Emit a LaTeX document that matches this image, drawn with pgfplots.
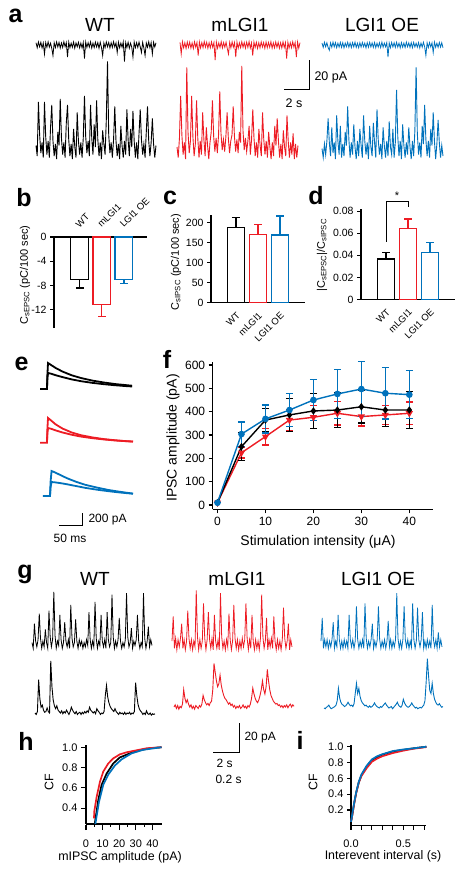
\documentclass[border=0pt]{standalone}
\usepackage{pgfplots}
\pgfplotsset{compat=1.18}
\usepackage{fontspec}
\setmainfont{Liberation Sans}
\definecolor{cR}{RGB}{237,28,36}
\definecolor{cB}{RGB}{0,114,188}
\newcommand{\fs}[1]{\fontsize{#1}{#1}\selectfont}
\pgfplotsset{
  trace/.style={scale only axis, axis lines=none, clip=false, anchor=south west, xmin=0, xmax=99, xtick=\empty, ytick=\empty},
  panel/.style={scale only axis, anchor=south west, axis line style={line width=1.1pt, black}, tick style={line width=1.1pt, black}, tick align=outside, major tick length=4pt, minor tick length=2.5pt, /pgf/number format/assume math mode=true, clip=false, scaled ticks=false},
  bar/.style={ybar, bar width=17.5pt, bar shift=0pt, fill=white, draw=#1, line width=1.4pt, error bars/y explicit, error bars/error bar style={#1, line width=1.4pt}, error bars/error mark options={#1, rotate=90, mark size=4pt, line width=1.4pt}},
}
\begin{document}
\begin{tikzpicture}
\useasboundingbox (0,0) rectangle (463pt,-872pt);

% ================= panel a =================
\node[font=\bfseries\fs{25}] at (15.5pt,-15.5pt) {a};
\node[font=\fs{19}] at (100pt,-25pt) {WT};
\node[font=\fs{19}] at (240pt,-25pt) {mLGI1};
\node[font=\fs{19}] at (382pt,-25pt) {LGI1 OE};

\begin{axis}[trace, at={(36pt,-63pt)}, width=120pt, height=24pt, ymin=-12, ymax=4]
\addplot[black, line width=0.8pt] table[row sep=\\, header=false, x expr=\coordindex, y index=0] {
1.5\\-1.8\\2\\-1.2\\1.8\\-2\\1.3\\-6\\1.6\\-1.5\\
2.1\\-1.4\\1.2\\-2.2\\-7\\1.5\\-1.7\\2\\-1.3\\1.7\\
-2\\1.4\\-1.6\\2.2\\-1.1\\1.6\\-8\\1.9\\-1.8\\1.2\\
-1.5\\2\\-2.1\\1.4\\-1.2\\1.8\\-1.9\\1.3\\-2\\1.7\\
-9\\2\\-1.6\\1.5\\-1.4\\2.1\\-2\\1.2\\-1.7\\1.9\\
-1.3\\1.6\\-2.2\\1.8\\-1.5\\-7\\1.4\\-1.8\\2\\-1.2\\
1.7\\-2\\1.5\\-1.6\\2.2\\-1.3\\1.4\\-5\\1.9\\-1.9\\
1.3\\-1.5\\2\\-11\\1.6\\-1.7\\1.8\\-2.1\\1.2\\-1.4\\
-8\\2\\-1.8\\1.5\\-1.6\\1.9\\-1.2\\-5\\1.7\\-2\\
-7\\1.4\\-1.5\\2.1\\-1.9\\1.6\\-6\\1.8\\-1.3\\1.5\\
};
\end{axis}

\begin{axis}[trace, at={(180pt,-63pt)}, width=120pt, height=24pt, ymin=-12, ymax=4]
\addplot[cR, line width=0.8pt] table[row sep=\\, header=false, x expr=\coordindex, y index=0] {
1.8\\-6\\2.1\\-1.9\\1.5\\-2.3\\2\\-1.6\\1.9\\-2.1\\
1.4\\-2.4\\2.2\\-1.5\\1.7\\-7\\2\\-2\\1.6\\-1.8\\
2.3\\-1.4\\1.8\\-2.2\\1.5\\-1.9\\2.1\\-1.6\\1.7\\-10\\
2\\-2.1\\1.4\\-1.7\\2.2\\-2\\1.6\\-1.5\\1.9\\-2.3\\
-6\\1.8\\-1.9\\2.1\\-1.4\\1.6\\-8\\2\\-2.2\\1.5\\
-1.8\\2.2\\-1.5\\1.7\\-2.1\\1.9\\-1.6\\2.3\\-2\\1.4\\
-7\\2\\-1.7\\1.8\\-2.3\\1.5\\-1.9\\2.1\\-1.4\\1.6\\
-2.2\\2\\-1.8\\1.7\\-1.5\\2.2\\-2.1\\1.4\\-1.9\\2\\
-1.6\\1.8\\-2.2\\1.5\\-2\\2.1\\-1.7\\1.6\\-9\\1.9\\
-2.1\\1.5\\-1.8\\2.2\\-1.5\\1.7\\-8\\2\\-2.1\\1.6\\
};
\end{axis}

\begin{axis}[trace, at={(322pt,-63pt)}, width=121pt, height=24pt, ymin=-12, ymax=4]
\addplot[cB, line width=0.8pt] table[row sep=\\, header=false, x expr=\coordindex, y index=0] {
1.3\\-1.6\\1.8\\-1.2\\1.5\\-1.7\\-3.5\\1.4\\-1.5\\1.9\\
-1.3\\1.6\\-1.8\\1.2\\-1.4\\1.7\\-1.6\\1.5\\-1.9\\1.3\\
-1.2\\1.8\\-1.5\\1.4\\-1.7\\1.6\\-1.3\\1.9\\-1.6\\1.2\\
-1.8\\1.5\\-1.4\\1.7\\-1.2\\1.3\\-1.9\\1.6\\-1.5\\1.8\\
-1.3\\1.4\\-1.6\\1.7\\-1.8\\1.2\\-1.4\\1.5\\-1.7\\1.9\\
-1.5\\1.3\\-1.2\\1.6\\-8\\1.4\\-1.8\\1.7\\-1.3\\1.5\\
-1.6\\1.8\\-1.4\\1.2\\-1.9\\1.6\\-1.5\\1.3\\-1.7\\1.9\\
-1.2\\1.4\\-1.6\\1.5\\-1.8\\1.7\\-1.3\\1.2\\-1.5\\1.6\\
-1.9\\1.3\\-1.4\\1.8\\-1.2\\-7\\1.5\\-1.7\\1.6\\-1.3\\
1.4\\-5\\1.9\\-1.5\\1.2\\-1.6\\1.7\\-1.4\\1.5\\-1.8\\
};
\end{axis}

\begin{axis}[trace, at={(36pt,-165pt)}, width=120pt, height=105pt, ymin=-10, ymax=60]
\addplot[black, line width=0.9pt] table[row sep=\\, header=false, x expr=\coordindex, y index=0] {
3\\-4\\32\\10\\-2\\5\\-5\\32\\9\\-3\\
6\\-5\\15\\30\\6\\-4\\4\\-6\\12\\3\\
34\\8\\-3\\5\\-5\\18\\30\\7\\-4\\4\\
-6\\14\\2\\-5\\25\\6\\-3\\5\\-5\\8\\
36\\9\\-2\\6\\-4\\30\\8\\-3\\17\\2\\
33\\7\\-4\\5\\-6\\13\\4\\-3\\20\\59\\
10\\-2\\5\\-5\\7\\29\\6\\-4\\4\\-6\\
16\\3\\-5\\6\\-3\\27\\7\\-4\\14\\2\\
26\\6\\-5\\5\\-6\\11\\27\\7\\-3\\4\\
-5\\12\\29\\6\\-4\\5\\21\\4\\-5\\3\\
};
\end{axis}

\begin{axis}[trace, at={(177pt,-165pt)}, width=121pt, height=105pt, ymin=-10, ymax=60]
\addplot[cR, line width=0.9pt] table[row sep=\\, header=false, x expr=\coordindex, y index=0] {
2\\-5\\8\\36\\10\\-3\\5\\-6\\55\\12\\
-2\\6\\36\\9\\-4\\4\\33\\8\\-5\\6\\
-3\\25\\7\\-4\\15\\3\\-6\\5\\12\\33\\
9\\-1\\8\\-2\\10\\39\\11\\0\\7\\-1\\
9\\25\\8\\-2\\6\\10\\29\\9\\-1\\7\\
-2\\12\\5\\56\\13\\0\\8\\-1\\6\\16\\
-3\\7\\27\\8\\-4\\5\\-5\\14\\3\\-4\\
25\\7\\-3\\6\\-5\\12\\2\\-6\\5\\-4\\
16\\3\\21\\6\\-5\\4\\-6\\13\\2\\-4\\
23\\6\\-5\\5\\-3\\11\\-6\\4\\-5\\3\\
};
\end{axis}

\begin{axis}[trace, at={(322pt,-165pt)}, width=121pt, height=105pt, ymin=-10, ymax=60]
\addplot[cB, line width=0.9pt] table[row sep=\\, header=false, x expr=\coordindex, y index=0] {
1\\-5\\4\\-3\\6\\21\\5\\-4\\15\\-2\\
5\\-6\\23\\6\\-3\\16\\-5\\4\\-4\\12\\
3\\29\\7\\-5\\5\\-3\\17\\2\\-6\\6\\
-4\\14\\3\\-5\\23\\6\\-3\\5\\-6\\16\\
2\\-4\\18\\5\\-5\\27\\7\\-3\\4\\-6\\
15\\3\\-5\\6\\-4\\19\\2\\-3\\14\\-5\\
5\\40\\9\\-4\\6\\-6\\17\\3\\-5\\5\\
-3\\15\\2\\-6\\6\\-4\\13\\55\\11\\-3\\
5\\-5\\16\\4\\30\\7\\-4\\6\\-5\\14\\
3\\25\\6\\-6\\4\\20\\5\\-5\\3\\-4\\
};
\end{axis}

% scale bar a
\begin{axis}[trace, at={(284pt,-90pt)}, width=25pt, height=30pt, xmin=0, xmax=2, ymin=0, ymax=20]
\addplot[black, line width=1pt] coordinates {(0,0) (2,0) (2,20)};
\end{axis}
\node[font=\fs{12.5}, anchor=west] at (311pt,-77pt) {20 pA};
\node[font=\fs{12.5}] at (294pt,-103pt) {2 s};

% ================= panel b =================
\node[font=\bfseries\fs{25}] at (24pt,-197.5pt) {b};
\begin{axis}[panel, at={(54pt,-328pt)}, width=93pt, height=91pt,
  xmin=-1.15, xmax=3.04, ymin=-15, ymax=0,
  axis x line*=top, axis y line*=left,
  ytick={-12,-8,-4,0}, xtick={0,1,2}, xticklabels={WT,mLGI1,LGI1 OE},
  x tick style={draw=none},
  x tick label style={rotate=45, anchor=south west, font=\fs{9.5}},
  y tick label style={font=\fs{10.5}}]
\addplot[bar=black, error bars/y dir=minus] coordinates {(0,-7.05) +- (0,1.35)};
\addplot[bar=cR, error bars/y dir=minus] coordinates {(1,-11.1) +- (0,2.0)};
\addplot[bar=cB, error bars/y dir=minus] coordinates {(2,-7.0) +- (0,0.7)};
\end{axis}
\node[rotate=90, font=\fs{11}] at (25pt,-275pt) {C\textsubscript{sEPSC} (pC/100 sec)};

% ================= panel c =================
\node[font=\bfseries\fs{25}] at (170pt,-197.5pt) {c};
\begin{axis}[panel, at={(211pt,-302.6pt)}, width=94pt, height=88pt,
  xmin=-1.136, xmax=3.136, ymin=0, ymax=220,
  axis x line*=bottom, axis y line*=left,
  ytick={0,50,100,150,200}, xtick={0,1,2}, xticklabels={WT,mLGI1,LGI1 OE},
  x tick style={draw=none},
  x tick label style={rotate=45, anchor=north east, font=\fs{9.5}},
  y tick label style={font=\fs{10.5}}]
\addplot[bar=black, error bars/y dir=plus] coordinates {(0,188) +- (0,25)};
\addplot[bar=cR, error bars/y dir=plus] coordinates {(1,171) +- (0,25)};
\addplot[bar=cB, error bars/y dir=plus] coordinates {(2,169) +- (0,48)};
\end{axis}
\node[rotate=90, font=\fs{11}] at (176pt,-262pt) {C\textsubscript{sIPSC} (pC/100 sec)};

% ================= panel d =================
\node[font=\bfseries\fs{25}] at (316pt,-196pt) {d};
\begin{axis}[panel, at={(361pt,-299.5pt)}, width=94pt, height=90.6pt,
  xmin=-1.136, xmax=3.136, ymin=0, ymax=0.082,
  axis x line*=bottom, axis y line*=left,
  ytick={0,0.02,0.04,0.06,0.08}, yticklabels={0,0.02,0.04,0.06,0.08},
  xtick={0,1,2}, xticklabels={WT,mLGI1,LGI1 OE},
  x tick style={draw=none},
  x tick label style={rotate=45, anchor=north east, font=\fs{9.5}},
  y tick label style={font=\fs{10.5}}]
\addplot[bar=black, error bars/y dir=plus] coordinates {(0,0.0366) +- (0,0.0061)};
\addplot[bar=cR, error bars/y dir=plus] coordinates {(1,0.0644) +- (0,0.0084)};
\addplot[bar=cB, error bars/y dir=plus] coordinates {(2,0.0424) +- (0,0.0094)};
\addplot[black, line width=0.8pt] coordinates {(0,0.0523) (0,0.0891) (1,0.0891) (1,0.0834)};
\node[font=\fs{11}] at (axis cs:0.5,0.0935) {*};
\end{axis}
\node[rotate=90, font=\fs{11}] at (322pt,-255pt) {|C\textsubscript{sEPSC}|/C\textsubscript{sIPSC}};

% ================= panel e =================
\node[font=\bfseries\fs{25}] at (21.5pt,-363.5pt) {e};
\begin{axis}[trace, at={(35pt,-395pt)}, width=110pt, height=40pt, xmin=0, xmax=239.1, ymin=-100, ymax=566.7]
\addplot[black, line width=1.8pt] coordinates {(11,0)(26,0)(27,250)(28.3,433)(35,400)(45,350)(60,290)(80,228)(100,183)(125,140)(150,108)(175,82)(200,63)(211,55)};
\addplot[black, line width=1.8pt] coordinates {(26,0)(27,180)(28.3,267)(35,255)(45,230)(60,198)(80,160)(100,130)(125,102)(150,80)(175,62)(200,47)(211,42)};
\end{axis}
\begin{axis}[trace, at={(35pt,-448.7pt)}, width=110pt, height=40pt, xmin=0, xmax=239.1, ymin=-100, ymax=566.7]
\addplot[cR, line width=1.8pt] coordinates {(11,0)(26,0)(27,240)(28.3,412)(35,370)(45,305)(60,235)(80,170)(100,125)(125,88)(150,60)(175,40)(200,25)(213,20)};
\addplot[cR, line width=1.8pt] coordinates {(26,0)(27,160)(28.3,245)(35,232)(45,205)(60,170)(80,132)(100,102)(125,75)(150,54)(175,37)(200,24)(213,18)};
\end{axis}
\begin{axis}[trace, at={(35pt,-502pt)}, width=110pt, height=40pt, xmin=0, xmax=239.1, ymin=-100, ymax=566.7]
\addplot[cB, line width=1.8pt] coordinates {(17,0)(32.6,0)(34,250)(36,417)(43,395)(55,350)(70,295)(90,235)(110,185)(135,140)(160,100)(185,70)(213,40)};
\addplot[cB, line width=1.8pt] coordinates {(32.6,0)(34,160)(36,233)(43,228)(55,215)(70,195)(90,165)(110,135)(135,105)(160,80)(185,58)(213,38)};
\end{axis}
\begin{axis}[trace, at={(59pt,-525pt)}, width=23pt, height=12pt, xmin=0, xmax=50, ymin=0, ymax=200]
\addplot[black, line width=1pt] coordinates {(0,0) (50,0) (50,200)};
\end{axis}
\node[font=\fs{12}, anchor=west] at (85pt,-520pt) {200 pA};
\node[font=\fs{12}] at (70pt,-538pt) {50 ms};

% ================= panel f =================
\node[font=\bfseries\fs{25}] at (167pt,-359pt) {f};
\begin{axis}[panel, at={(212.7pt,-509.3pt)}, width=220.6pt, height=147.8pt,
  xmin=-1, xmax=45, ymin=-18.4, ymax=615, axis lines*=left,
  xtick={0,10,20,30,40}, ytick={0,100,200,300,400,500,600},
  tick label style={font=\fs{12}}]
\addplot[cR, line width=1.4pt, mark=triangle*, mark size=2.8pt, mark options={rotate=180},
  error bars/y dir=both, error bars/y explicit, error bars/error bar style={line width=1.3pt},
  error bars/error mark options={rotate=90, mark size=3.5pt, line width=1.3pt}]
  coordinates {(0,10)+-(0,0) (5,224)+-(0,22) (10,293)+-(0,36) (15,364)+-(0,45) (20,376)+-(0,49) (25,393)+-(0,50) (30,379)+-(0,40) (35,386)+-(0,40) (40,393)+-(0,48)};
\addplot[black, line width=1.4pt, mark=diamond*, mark size=2.6pt,
  error bars/y dir=both, error bars/y explicit, error bars/error bar style={line width=1.3pt},
  error bars/error mark options={rotate=90, mark size=3.5pt, line width=1.3pt}]
  coordinates {(0,10)+-(0,0) (5,250)+-(0,60) (10,364)+-(0,50) (15,386)+-(0,71) (20,403)+-(0,75) (25,407)+-(0,74) (30,421)+-(0,70) (35,407)+-(0,70) (40,407)+-(0,79)};
\addplot[cB, line width=1.4pt, mark=*, mark size=2.6pt,
  error bars/y dir=both, error bars/y explicit, error bars/error bar style={line width=1.3pt},
  error bars/error mark options={rotate=90, mark size=3.5pt, line width=1.3pt}]
  coordinates {(0,10)+-(0,0) (5,304)+-(0,52) (10,369)+-(0,60) (15,407)+-(0,72) (20,450)+-(0,87) (25,476)+-(0,105) (30,497)+-(0,117) (35,479)+-(0,110) (40,473)+-(0,102)};
\end{axis}
\node[rotate=90, font=\fs{14}] at (173pt,-438pt) {IPSC amplitude (pA)};
\node[font=\fs{14}] at (318pt,-542pt) {Stimulation intensity (μA)};

% ================= panel g =================
\node[font=\bfseries\fs{25}] at (25pt,-574pt) {g};
\node[font=\fs{19}] at (95pt,-578.5pt) {WT};
\node[font=\fs{19}] at (237pt,-578.5pt) {mLGI1};
\node[font=\fs{19}] at (378pt,-578.5pt) {LGI1 OE};

\begin{axis}[trace, at={(32pt,-652.7pt)}, width=120pt, height=66.7pt, ymin=-6, ymax=40]
\addplot[black, line width=0.8pt] table[row sep=\\, header=false, x expr=\coordindex, y index=0] {
1\\-3\\14\\2\\-2\\3\\21\\4\\-3\\2\\
-2\\10\\1\\-3\\23\\5\\-2\\3\\36\\6\\
-3\\2\\-1\\20\\3\\-3\\1\\15\\2\\-2\\
3\\-3\\27\\4\\-2\\1\\17\\2\\-3\\3\\
-1\\2\\-3\\1\\-2\\3\\-1\\22\\3\\-3\\
2\\-2\\29\\4\\-3\\2\\-1\\20\\2\\-2\\
3\\-3\\22\\3\\-2\\1\\34\\5\\-3\\2\\
-2\\3\\18\\2\\-3\\1\\-2\\3\\35\\5\\
-2\\1\\11\\-3\\2\\-1\\3\\20\\2\\-3\\
1\\-2\\35\\4\\-3\\2\\12\\-2\\3\\-1\\
};
\end{axis}

\begin{axis}[trace, at={(172pt,-652.7pt)}, width=120pt, height=66.7pt, ymin=-6, ymax=40]
\addplot[cR, line width=0.8pt] table[row sep=\\, header=false, x expr=\coordindex, y index=0] {
2\\19\\-3\\4\\-4\\3\\-2\\4\\14\\-3\\
3\\-4\\2\\23\\4\\-3\\3\\-4\\2\\-2\\
37\\5\\-4\\3\\-3\\2\\28\\4\\-4\\3\\
22\\3\\-3\\4\\-4\\20\\2\\-3\\3\\-4\\
35\\5\\-3\\2\\-4\\3\\-2\\21\\3\\-4\\
2\\27\\4\\-3\\3\\-4\\2\\-3\\4\\-2\\
3\\28\\4\\-4\\3\\-3\\20\\2\\-4\\3\\
-3\\2\\-4\\4\\34\\5\\-3\\2\\18\\-4\\
3\\-2\\4\\-3\\19\\2\\-4\\3\\-3\\2\\
-4\\3\\25\\4\\-3\\2\\14\\-4\\3\\-2\\
};
\end{axis}

\begin{axis}[trace, at={(321pt,-652.7pt)}, width=121pt, height=66.7pt, ymin=-6, ymax=40]
\addplot[cB, line width=0.8pt] table[row sep=\\, header=false, x expr=\coordindex, y index=0] {
2\\18\\-3\\3\\-2\\3\\-3\\2\\-2\\3\\
15\\-3\\2\\-2\\20\\3\\-3\\2\\-3\\3\\
-2\\2\\-3\\20\\3\\-2\\3\\-3\\2\\26\\
3\\-3\\2\\-2\\3\\-3\\28\\4\\-3\\2\\
-2\\3\\14\\-3\\2\\-2\\3\\26\\3\\-3\\
2\\-2\\3\\-3\\2\\16\\-2\\3\\-3\\2\\
-2\\3\\35\\4\\-3\\2\\-3\\3\\26\\3\\
-2\\3\\-3\\2\\-2\\28\\3\\-3\\2\\25\\
3\\-2\\3\\22\\-3\\2\\-3\\3\\-2\\2\\
-3\\27\\3\\-2\\3\\-3\\8\\-2\\3\\-2\\
};
\end{axis}

\begin{axis}[trace, at={(35pt,-718.8pt)}, width=120pt, height=60.9pt, ymin=-4, ymax=38]
\addplot[black, line width=0.9pt] table[row sep=\\, header=false, x expr=\coordindex, y index=0] {
0\\-1\\1\\23\\10\\4\\5.5\\2\\0.5\\1\\
3.5\\1\\0\\36\\18\\9\\5\\3\\5\\2\\
1\\0\\1.5\\-0.5\\1\\0\\2\\0.5\\-1\\1\\
4\\2\\0.5\\-0.5\\1\\-1\\0\\0.5\\-1\\0.5\\
-0.5\\1\\0\\1.5\\0.5\\4\\2\\1\\0\\1\\
-0.5\\3\\1.5\\0.5\\-1\\0\\-0.5\\1\\12\\19\\
11\\7\\4.5\\3\\2\\1\\3\\1\\0\\-1\\
0.5\\-0.5\\0\\-1\\0.5\\-1\\0\\-0.5\\0.5\\-1\\
0\\-0.5\\1\\21\\12\\6\\3\\1.5\\0.5\\-1\\
0\\-1\\1.5\\-0.5\\-1\\0\\-1.5\\-0.5\\-1\\-0.5\\
};
\end{axis}

\begin{axis}[trace, at={(174pt,-712.8pt)}, width=120pt, height=60.9pt, ymin=-4, ymax=38]
\addplot[cR, line width=0.9pt] table[row sep=\\, header=false, x expr=\coordindex, y index=0] {
0\\1.5\\-1\\1\\-1.5\\0.5\\-0.5\\2\\12\\6\\
3\\5\\2\\0\\1.5\\-1\\0.5\\-1.5\\1\\0\\
-1\\1\\0\\2\\8\\5\\3\\1.5\\2.5\\1\\
3\\4\\12\\30\\24\\18\\14\\16\\22\\15\\
11\\8\\6\\5\\3.5\\2\\3\\1\\2\\0\\
1\\-1\\0.5\\-0.5\\1\\-1\\0\\1.5\\-0.5\\0.5\\
-1\\1\\0\\2\\6\\13\\9\\6\\4\\3\\
5\\8\\12\\18\\12\\9\\14\\26\\18\\12\\
8\\6\\4\\3\\2\\2.5\\1\\1.5\\0\\1\\
-0.5\\1\\0\\1.5\\-0.5\\1\\2\\0\\1.5\\0.5\\
};
\end{axis}

\begin{axis}[trace, at={(324pt,-713.8pt)}, width=119pt, height=60.9pt, ymin=-4, ymax=38]
\addplot[cB, line width=0.9pt] table[row sep=\\, header=false, x expr=\coordindex, y index=0] {
0\\-0.5\\0.5\\1\\2\\0.5\\-0.5\\0\\0.5\\1\\
2\\5\\13.5\\7\\4\\2.5\\2\\1\\1.5\\2.5\\
4\\2.5\\1.5\\2\\1\\3\\10\\17\\10\\13.5\\
8\\5\\3.5\\2.5\\1.5\\2\\1\\0.5\\1.5\\0.5\\
1\\2\\3.5\\2\\1\\0.5\\0\\1\\0.5\\1.5\\
2.5\\3.5\\2\\1\\0\\0.5\\1\\-0.5\\0.5\\1.5\\
2.5\\4\\2\\1\\0.5\\2\\6\\3.5\\2\\1\\
0.5\\1\\2\\3.5\\2\\1\\0\\0.5\\-0.5\\0\\
0.5\\0\\1\\2\\5\\18\\34\\22\\12\\10\\
17\\10\\6\\4\\2.5\\2\\3\\1.5\\0.5\\1\\
};
\end{axis}

% scale bar g
\begin{axis}[trace, at={(213pt,-752pt)}, width=26pt, height=29pt, xmin=0, xmax=2, ymin=0, ymax=20]
\addplot[black, line width=1pt] coordinates {(0,0) (2,0) (2,20)};
\end{axis}
\node[font=\fs{12}, anchor=west] at (241pt,-738pt) {20 pA};
\node[font=\fs{12}, anchor=west] at (213pt,-763pt) {2 s};
\node[font=\fs{12}, anchor=west] at (212pt,-779pt) {0.2 s};

% ================= panel h =================
\node[font=\bfseries\fs{25}] at (26pt,-741.5pt) {h};
\begin{axis}[panel, at={(86pt,-824pt)}, width=75.7pt, height=78.8pt,
  xmin=0, xmax=45.6, ymin=0.244, ymax=1.02, axis lines*=left,
  xtick={0,10,20,30,40}, minor x tick num=1,
  major x tick style={yshift=-1pt}, major tick length=5pt,
  ytick={0.4,0.6,0.8,1.0}, yticklabels={0.4,0.6,0.8,1.0},
  tick label style={font=\fs{11}}, x tick label style={yshift=-7pt}]
\addplot[black, line width=1.7pt] coordinates {(5.3,0.244)(5.4,0.26)(7.4,0.48)(9.4,0.63)(12.4,0.74)(16.4,0.84)(20.4,0.90)(26.5,0.94)(32.5,0.97)(38.5,0.99)(45.5,1.0)};
\addplot[cR, line width=1.7pt] coordinates {(4.8,0.3)(5,0.37)(6.4,0.51)(8.4,0.66)(10.4,0.76)(13.4,0.84)(16.4,0.89)(20.4,0.93)(24.4,0.95)(30.4,0.97)(36.5,0.99)(45.5,1.0)};
\addplot[cB, line width=1.7pt] coordinates {(5.7,0.244)(5.8,0.26)(7.8,0.46)(10.4,0.63)(13.4,0.73)(17.4,0.82)(21.4,0.88)(27.5,0.94)(34.5,0.975)(45.5,1.0)};
\end{axis}
\node[rotate=90, font=\fs{12.4}] at (49pt,-782pt) {CF};
\node[font=\fs{12.4}] at (120pt,-857pt) {mIPSC amplitude (pA)};

% ================= panel i =================
\node[font=\bfseries\fs{25}] at (300pt,-740pt) {i};
\begin{axis}[panel, at={(351pt,-825.8pt)}, width=75.4pt, height=80.7pt,
  xmin=0, xmax=0.72, ymin=0, ymax=1.02, axis lines*=left,
  xtick={0,0.1,0.2,0.3,0.4,0.5,0.6,0.7}, xticklabels={0.0,,,,,0.5,,},
  ytick={0.2,0.4,0.6,0.8,1.0}, yticklabels={0.2,0.4,0.6,0.8,1.0},
  tick label style={font=\fs{11}}, x tick label style={yshift=-6pt}]
\addplot[black, line width=1.7pt] coordinates {(0,0.05)(0.01,0.12)(0.02,0.2)(0.03,0.28)(0.05,0.42)(0.075,0.55)(0.1,0.64)(0.15,0.75)(0.2,0.83)(0.25,0.87)(0.3,0.9)(0.4,0.94)(0.5,0.96)(0.6,0.98)(0.72,1.0)};
\addplot[cR, line width=1.7pt] coordinates {(0,0.05)(0.01,0.12)(0.02,0.2)(0.03,0.28)(0.05,0.42)(0.075,0.55)(0.1,0.63)(0.15,0.73)(0.2,0.81)(0.25,0.85)(0.3,0.88)(0.4,0.92)(0.5,0.95)(0.6,0.975)(0.72,0.995)};
\addplot[cB, line width=1.7pt] coordinates {(0,0.05)(0.01,0.13)(0.02,0.21)(0.03,0.29)(0.05,0.43)(0.075,0.56)(0.1,0.65)(0.15,0.76)(0.2,0.84)(0.25,0.88)(0.3,0.905)(0.4,0.945)(0.5,0.965)(0.6,0.98)(0.72,1.0)};
\end{axis}
\node[rotate=90, font=\fs{12.4}] at (313pt,-782pt) {CF};
\node[font=\fs{12.4}] at (383pt,-856pt) {Interevent interval (s)};

\end{tikzpicture}
\end{document}
